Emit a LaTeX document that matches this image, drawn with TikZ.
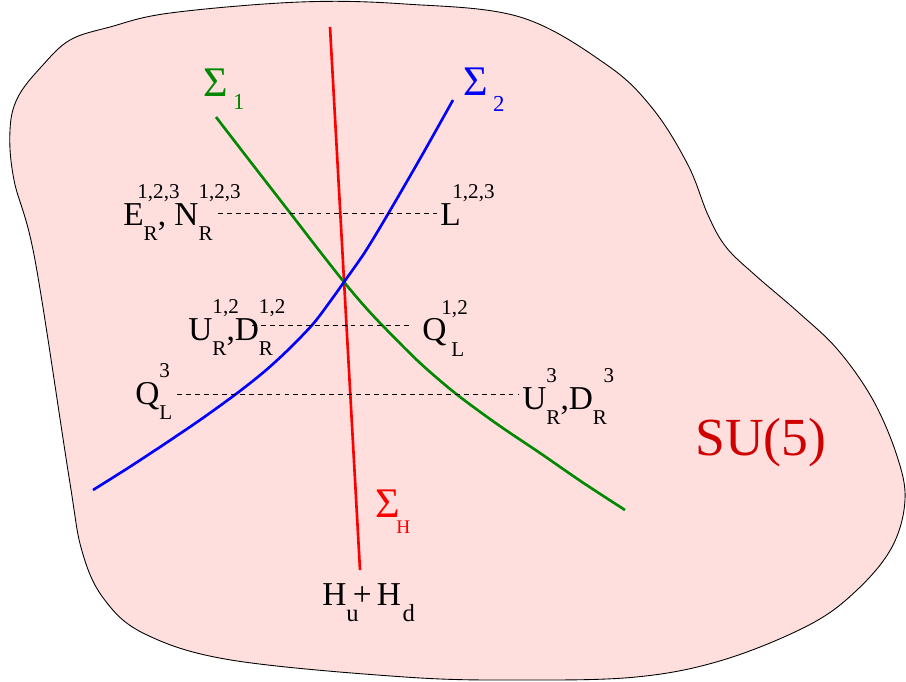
\documentclass[tikz,border=0pt]{standalone}
\usepackage{fontspec}
\setmainfont{Liberation Serif}
\usepackage{xcolor}
\usepackage{tikz}

\definecolor{branepink}{RGB}{255,222,222}
\definecolor{sigone}{RGB}{0,136,0}
\definecolor{sigtwo}{RGB}{0,0,255}
\definecolor{sighiggs}{RGB}{255,0,0}
\definecolor{gutred}{RGB}{208,0,0}

\newcommand{\lblsz}{\fontsize{19}{21}\selectfont}
\newcommand{\idxsz}{\fontsize{12}{13}\selectfont}
% field with lower and upper index, width taken from the lower one
\newcommand{\fld}[3]{#1\rlap{\raisebox{0.78em}{\idxsz #3}}\raisebox{-0.45em}{\idxsz #2}}

\begin{document}
\begin{tikzpicture}[x=0.02cm, y=-0.02cm,
        brane/.style={draw=black, line width=0.5pt, fill=branepink},
        curve/.style={line width=1.5pt},
        dashline/.style={dash pattern=on 2.8pt off 2.3pt, line width=0.55pt},
        field/.style={inner sep=0pt, anchor=base west, font=\lblsz},
        siglbl/.style={inner sep=0pt, anchor=base west, font=\fontsize{24}{26}\selectfont},
        gutlbl/.style={inner sep=0pt, anchor=base west, font=\fontsize{30.5}{32}\selectfont, text=gutred}
    ]
        \useasboundingbox (0,0) rectangle (906,681);

        \draw[brane] plot[smooth cycle, tension=0.6] coordinates {
            (70,40) (110,27) (170,13) (300,2) (405,4) (520,17) (607,65) (653,109) (688,165)
            (708,215) (726,247) (755,275) (798,312) (838,350) (873,400) (897,456)
            (905,500) (892,547) (857,590) (809,625) (723,660) (636,677) (520,680)
            (405,677) (231,660) (145,634) (104,599) (82,551) (69,477) (35,260)
            (14,180) (10,130) (18,97) (42,66)};

        % the three branes
        \draw[curve, sighiggs] (330,27) -- (360,570);
        \draw[curve, sigone] plot[smooth] coordinates {
            (216,117) (253,165) (291,214) (318,249) (344,282) (363,304.5) (382,325)
            (419,362) (455,393) (497,424) (540,453) (582,482) (625,510)};
        \draw[curve, sigtwo] plot[smooth] coordinates {
            (453,100) (421,157) (388,214) (365,252) (344,282) (329,303) (313,324)
            (290,348) (265,371) (236,394) (200,420) (163,445) (128,468) (93,490)};

        \node[siglbl, text=sigone] (sig1) at (203,96) {Σ\kern3pt\raisebox{-0.33em}{\fontsize{13}{14}\selectfont 1}};
        \node[siglbl, text=sigtwo] (sig2) at (463,95) {Σ\kern3pt\raisebox{-0.38em}{\fontsize{13}{14}\selectfont 2}};
        \node[siglbl, text=sighiggs] (sigH) at (375,517) {Σ\kern-2pt\raisebox{-0.38em}{\fontsize{11}{12}\selectfont H}};

        \node[field] (enr) at (123,225) {\fld{E}{R}{\kern-0.3em1,2,3}, \fld{N}{R}{1,2,3}};
        \node[field] (lep) at (440,225) {L\kern-0.25em\raisebox{0.78em}{\idxsz 1,2,3}};
        \node[field] (udr) at (188,340) {\fld{U}{R}{1,2},\fld{D}{R}{1,2}};
        \node[field] (qlu) at (422,340) {Q\kern-0.15em\rlap{\raisebox{0.75em}{\idxsz 1,2}}\kern0.3em\raisebox{-0.5em}{\idxsz L}};
        \node[field] (ql3) at (135,404) {\fld{Q}{L}{3}};
        \node[field] (ud3) at (522,409) {\fld{U}{R}{3},\fld{D}{R}{\kern0.5em3}};
        \node[field] (higgs) at (322,605) {H\raisebox{-0.5em}{\fontsize{14}{15}\selectfont u}\kern-3.4pt+\kern3pt H\kern1pt\raisebox{-0.5em}{\fontsize{14}{15}\selectfont d}};
        \node[gutlbl] (gut) at (695,455) {SU(5)};

        \draw[dashline] ([shift={(95,-12)}]enr.base west) -- ([shift={(-3,-12)}]lep.base west);
        \draw[dashline] ([shift={(64,-15)}]udr.base west) -- ([shift={(-12,-15)}]qlu.base west);
        \draw[dashline] ([shift={(42,-10)}]ql3.base west) -- ([shift={(-4,-15)}]ud3.base west);
    \end{tikzpicture}
\end{document}
